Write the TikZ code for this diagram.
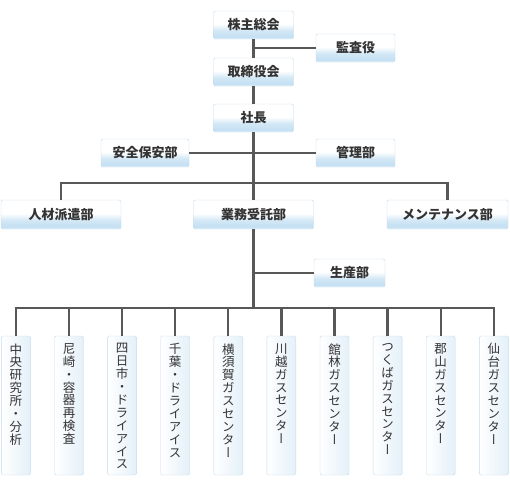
\documentclass[tikz,border=0pt]{standalone}
\usepackage{fontspec}
\setmainfont{Noto Sans CJK JP}
\newfontfamily\tatefont[RawFeature=+vert]{Noto Sans CJK JP}
\usetikzlibrary{positioning}

\definecolor{linegray}{RGB}{88,88,88}
\definecolor{textgray}{RGB}{51,51,51}
\definecolor{edgeblue}{RGB}{196,219,234}
\definecolor{bandblue}{RGB}{196,224,243}
\definecolor{paleblue}{RGB}{228,240,249}
\pgfdeclareverticalshading{deptshade}{100bp}{color(0bp)=(paleblue); color(25bp)=(paleblue); color(29bp)=(bandblue); color(40bp)=(bandblue!75!white); color(52bp)=(white); color(100bp)=(white)}

% vertical (tategaki) text, one character per line
\def\tateloop#1{\ifx\relax#1\else\hbox to 13pt{\hss#1\hss}\expandafter\tateloop\fi}
\newcommand\tate[1]{\vbox to 124pt{\baselineskip=12.9pt\lineskiplimit=-20pt\tatefont\tateloop#1\relax\vfil}}

\begin{document}
\begin{tikzpicture}[x=1pt,y=-1pt,node distance=53.1pt,
	tree line/.style={draw=linegray,line width=2.3pt},
	dept node/.style={draw=edgeblue,rounded corners=1.5pt,shading=deptshade,
		minimum height=28pt,inner sep=0pt,text=textgray,
		font=\bfseries\fontsize{13}{13}\selectfont},
	site node/.style={draw=edgeblue,rounded corners=1.5pt,left color=white,right color=paleblue,
		minimum width=29pt,minimum height=139pt,inner sep=0pt,text=textgray,
		font=\fontsize{12.5}{12.9}\selectfont}]
	
	\useasboundingbox (0,0) rectangle (510,485);
	
	\node[dept node, minimum width=80pt] (kabu) at (253.5,25) {株主総会};
	\node[dept node, minimum width=79pt] (kansa) at (355.5,48) {監査役};
	\node[dept node, minimum width=80pt] (tori) at (253.5,72) {取締役会};
	\node[dept node, minimum width=80pt] (shacho) at (253.5,118) {社長};
	\node[dept node, minimum width=88pt] (anzen) at (145,153) {安全保安部};
	\node[dept node, minimum width=79pt] (kanri) at (355.5,153) {管理部};
	\node[dept node, minimum width=120pt, minimum height=29pt] (jinzai) at (61,214.5) {人材派遣部};
	\node[dept node, minimum width=120pt, minimum height=29pt] (gyomu) at (253.5,214.5) {業務受託部};
	\node[dept node, minimum width=121pt, minimum height=29pt] (mainte) at (447.5,214.5) {メンテナンス部};
	\node[dept node, minimum width=71pt] (seisan) at (349.5,273) {生産部};
	
	\node[site node] (c1) at (15.9,405.5) {\tate{中央研究所・分析}};
	\node[site node] (c2) [right of=c1] {\tate{尼崎・容器再検査}};
	\node[site node] (c3) [right of=c2] {\tate{四日市・ドライアイス}};
	\node[site node] (c4) [right of=c3] {\tate{千葉・ドライアイス}};
	\node[site node] (c5) [right of=c4] {\tate{横須賀ガスセンター}};
	\node[site node] (c6) [right of=c5] {\tate{川越ガスセンター}};
	\node[site node] (c7) [right of=c6] {\tate{館林ガスセンター}};
	\node[site node] (c8) [right of=c7] {\tate{つくばガスセンター}};
	\node[site node] (c9) [right of=c8] {\tate{郡山ガスセンター}};
	\node[site node] (c10) [right of=c9] {\tate{仙台ガスセンター}};
	
	\coordinate (bus) at (253.5,183);
	\coordinate (sitebus) at (253.5,308);
	
	\draw[tree line] (kabu) -- (tori);
	\draw[tree line] (kansa.west) -- (kansa.west -| kabu.south);
	\draw[tree line] (tori) -- (shacho);
	\draw[tree line] (shacho) -- (gyomu);
	\draw[tree line] (anzen.east) -- (kanri.west);
	\draw[tree line] (jinzai.north) |- (bus) -| (mainte.north);
	\draw[tree line] (gyomu.south) -- (sitebus);
	\draw[tree line] (seisan.west) -- (seisan.west -| gyomu.south);
	\draw[tree line] (c1.north) |- (sitebus) -| (c10.north);
	
	\path[tree line]
	(c2.north) edge (c2.north |- sitebus)
	(c3.north) edge (c3.north |- sitebus)
	(c4.north) edge (c4.north |- sitebus)
	(c5.north) edge (c5.north |- sitebus)
	(c6.north) edge (c6.north |- sitebus)
	(c7.north) edge (c7.north |- sitebus)
	(c8.north) edge (c8.north |- sitebus)
	(c9.north) edge (c9.north |- sitebus);
\end{tikzpicture}
\end{document}
